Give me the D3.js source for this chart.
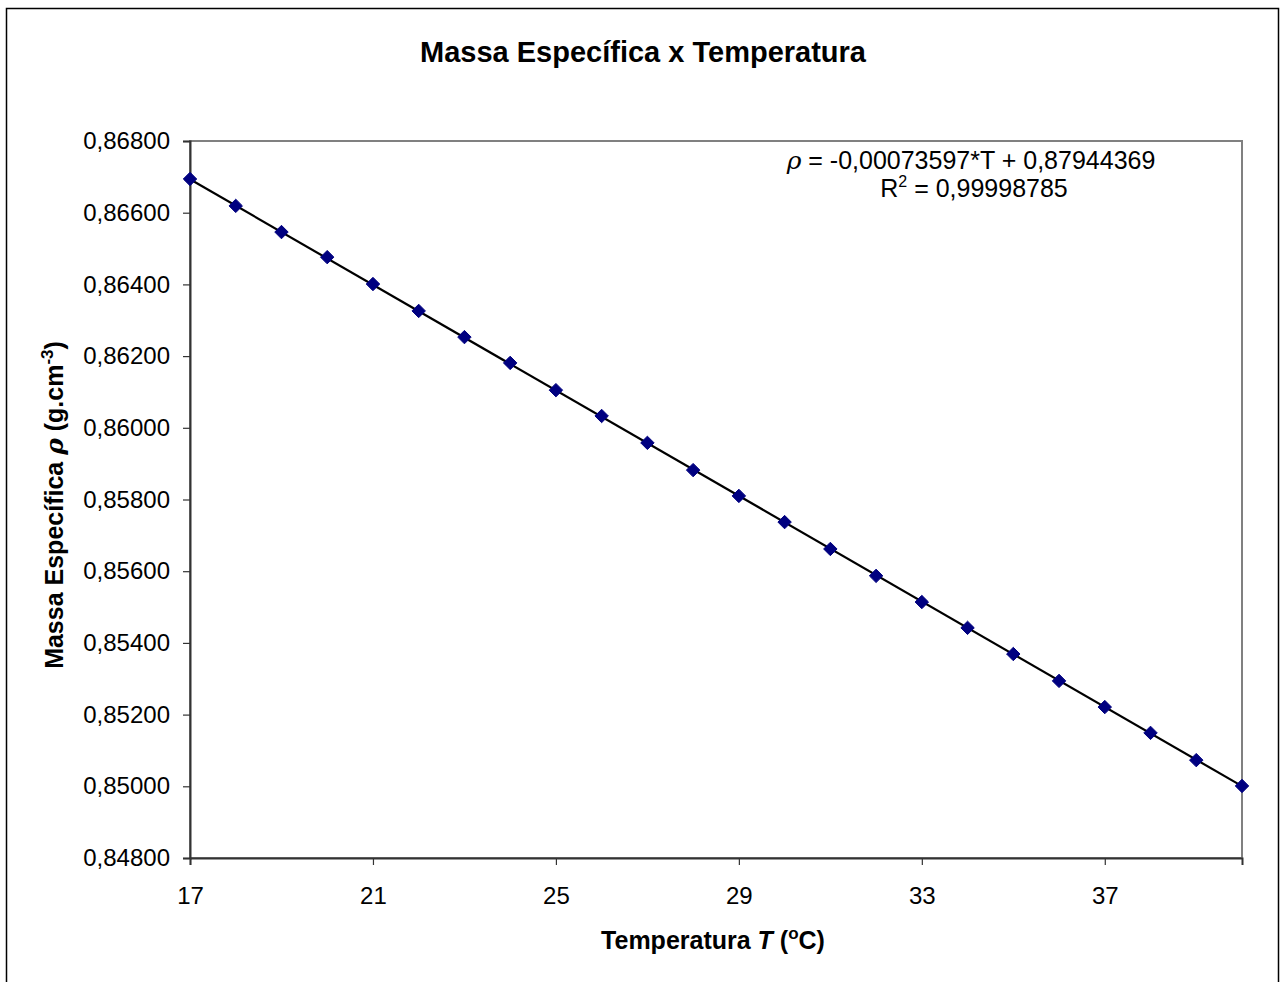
<!DOCTYPE html>
<html>
<head>
<meta charset="utf-8">
<script src="https://cdn.jsdelivr.net/npm/d3@7"></script>
<style>
  body { margin: 0; background: #fff; }
  text { font-family: "Liberation Sans", Arial, sans-serif; }
</style>
</head>
<body>
<div id="chart"></div>
<script>
// temperatures (oC) and measured density (g.cm-3)
var temps = [17, 18, 19, 20, 21, 22, 23, 24, 25, 26, 27, 28, 29, 30, 31, 32, 33, 34, 35, 36, 37, 38, 39, 40];
var rho = [0.86694, 0.86619, 0.86546, 0.86476, 0.86401, 0.86326, 0.86253, 0.86181,
           0.86105, 0.86033, 0.85958, 0.85882, 0.85810, 0.85737, 0.85662, 0.85587,
           0.85514, 0.85442, 0.85369, 0.85294, 0.85221, 0.85149, 0.85073, 0.85001];
var xTicks = [17, 21, 25, 29, 33, 37];
var yTicks = [0.848, 0.850, 0.852, 0.854, 0.856, 0.858, 0.860, 0.862, 0.864, 0.866, 0.868];
// linear fit reported on the chart
var slope = -0.00073597;
var intercept = 0.87944369;
var eqText = "= -0,00073597*T + 0,87944369";
var r2Text = " = 0,99998785";

var width = 1285;
var height = 982;
var plot = {left: 190, top: 141, right: 1242, bottom: 858};

var svg = d3.select("#chart").append("svg")
    .attr("width", width)
    .attr("height", height);

// outer chart frame
svg.append("rect")
    .attr("x", 6.5).attr("y", 8.5)
    .attr("width", 1272).attr("height", 990)
    .style("fill", "#fff")
    .style("stroke", "#000")
    .style("stroke-width", 1.5);

var x = d3.scaleLinear().domain([17, 40]).range([plot.left, plot.right]);
var y = d3.scaleLinear().domain([0.848, 0.868]).range([plot.bottom, plot.top]);

// plot area border (gray top/right)
svg.append("rect")
    .attr("x", plot.left).attr("y", plot.top)
    .attr("width", plot.right - plot.left).attr("height", plot.bottom - plot.top)
    .style("fill", "none")
    .style("stroke", "#808080")
    .style("stroke-width", 2);

var fmt = function(d){ return d3.format(".5f")(d).replace(".", ","); };

var yAxis = svg.append("g")
    .attr("transform", "translate(" + plot.left + ",0)")
    .call(d3.axisLeft(y).tickValues(yTicks).tickSize(7).tickPadding(13).tickFormat(fmt));

var xAxis = svg.append("g")
    .attr("transform", "translate(0," + plot.bottom + ")")
    .call(d3.axisBottom(x).tickValues(xTicks).tickSize(7).tickPadding(22).tickFormat(d3.format("d")));

[yAxis, xAxis].forEach(function(ax){
    ax.select(".domain").style("stroke", "#333").style("stroke-width", 2);
    ax.selectAll(".tick line").style("stroke", "#333").style("stroke-width", 1.2);
    ax.selectAll(".tick text")
        .style("font-family", "'Liberation Sans', Arial, sans-serif")
        .style("font-size", "24px")
        .style("fill", "#000");
});

// trend line
var line = d3.line()
    .x(function(d){ return x(d); })
    .y(function(d){ return y(slope * d + intercept); });
svg.append("path")
    .datum([17, 40])
    .attr("d", line)
    .style("fill", "none")
    .style("stroke", "#000")
    .style("stroke-width", 2.2);

// markers
var diamond = d3.symbol().type(d3.symbolDiamond2).size(115);
svg.append("g").selectAll("path.pt")
        .data(temps)
    .enter().append("path")
        .attr("class", "pt")
        .attr("d", diamond)
        .attr("transform", function(d, i){
            return "translate(" + x(d) + "," + y(rho[i]) + ")";
        })
        .style("fill", "#000080")
        .style("stroke", "#000080")
        .style("stroke-width", 1);

// title
svg.append("text")
    .attr("x", 643).attr("y", 62)
    .attr("text-anchor", "middle")
    .style("font-size", "29px")
    .style("font-weight", "bold")
    .text("Massa Específica x Temperatura");

// x axis title
var xt = svg.append("text")
    .attr("x", 713).attr("y", 949)
    .attr("text-anchor", "middle")
    .style("font-size", "25px")
    .style("font-weight", "bold");
xt.append("tspan").text("Temperatura ");
xt.append("tspan").style("font-style", "italic").text("T");
xt.append("tspan").text(" (");
xt.append("tspan").attr("dy", -10).style("font-size", "17px").text("o");
xt.append("tspan").attr("dy", 10).text("C)");

// y axis title
var yt = svg.append("text")
    .attr("transform", "translate(63,505) rotate(-90)")
    .attr("text-anchor", "middle")
    .style("font-size", "25px")
    .style("font-weight", "bold");
yt.append("tspan").text("Massa Específica ");
yt.append("tspan").style("font-style", "italic").style("font-family", "'DejaVu Serif', serif").text("ρ");
yt.append("tspan").text(" (g.cm");
yt.append("tspan").attr("dy", -10).style("font-size", "17px").text("-3");
yt.append("tspan").attr("dy", 10).text(")");

// equation
var eq = svg.append("text")
    .attr("x", 971).attr("y", 169)
    .attr("text-anchor", "middle")
    .style("font-size", "25px");
eq.append("tspan").style("font-style", "italic").style("font-family", "'DejaVu Serif', serif").text("ρ");
eq.append("tspan").text(" " + eqText);

var r2 = svg.append("text")
    .attr("x", 974).attr("y", 197)
    .attr("text-anchor", "middle")
    .style("font-size", "25px");
r2.append("tspan").text("R");
r2.append("tspan").attr("dy", -10).style("font-size", "16px").text("2");
r2.append("tspan").attr("dy", 10).text(r2Text);
</script>
</body>
</html>
